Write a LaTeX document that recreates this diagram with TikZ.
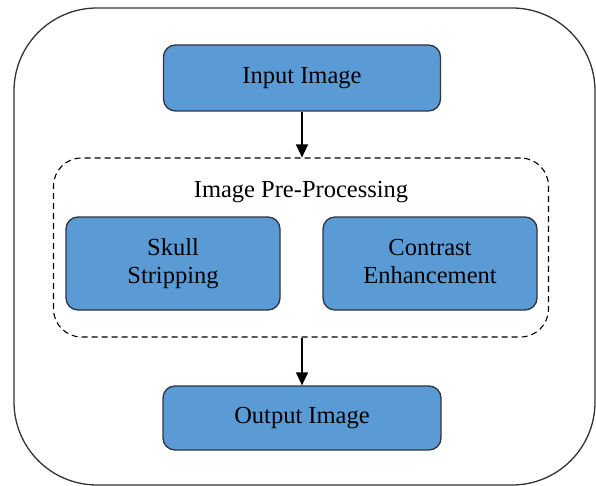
\documentclass[tikz,border=0pt]{standalone}
\usepackage{fontspec}
\setmainfont{Liberation Serif}
\usetikzlibrary{arrows.meta}
\definecolor{boxblue}{HTML}{5B9BD5}
\definecolor{boxline}{HTML}{2E3440}
\tikzstyle{stage}=[draw=boxline,line width=1.3pt,fill=boxblue,rounded corners=12pt,inner sep=0pt,align=center,font=\fontsize{24.5}{28}\selectfont]
\tikzstyle{group}=[draw=black,line width=1.1pt,dashed,dash pattern=on 6pt off 4pt,rounded corners=28pt,inner sep=0pt]
\tikzstyle{flow}=[line width=1.3pt,-{Triangle[length=13pt,width=12pt]}]

\begin{document}
\begin{tikzpicture}[x=1pt,y=-1pt]
\useasboundingbox (0,0) rectangle (596,486);
%frame
\draw[line width=1.3pt,draw=black!80,rounded corners=83pt] (14,8) rectangle (595,485);
%pre-processing group
\node[group,minimum width=495pt,minimum height=179pt] (pre) at (301,247.5) {};
\node[font=\fontsize{24.5}{28}\selectfont,inner sep=0pt] (pretitle) at (301,192) {Image Pre-Processing};
\node[stage,minimum width=214pt,minimum height=93pt] (skull) at (173,263.5) {\strut Skull\\\strut Stripping};
\node[stage,minimum width=214pt,minimum height=93pt] (contrast) at (430,263.5) {\strut Contrast\\\strut Enhancement};
%input and output
\node[stage,minimum width=277pt,minimum height=66pt] (input) at (302,78) {Input Image};
\node[stage,minimum width=278pt,minimum height=64pt] (output) at (302,418) {Output Image};
%arrows
\draw[flow] (input.south) -- (input.south |- pre.north);
\draw[flow] (output.north |- pre.south) -- (output.north);
\end{tikzpicture}
\end{document}
